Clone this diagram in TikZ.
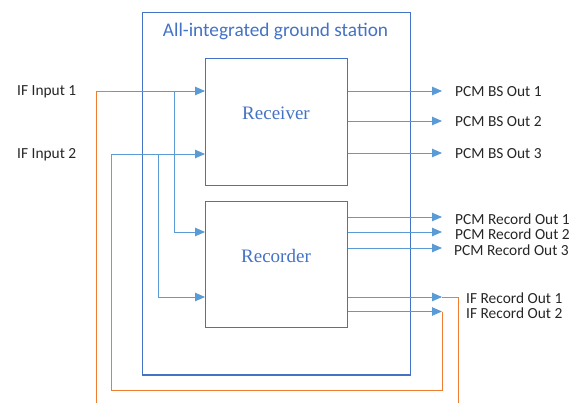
\documentclass[tikz,border=0pt]{standalone}
\usepackage{fontspec}
\setmainfont{Carlito}
\newfontfamily\blockserif{Liberation Serif}
\usetikzlibrary{arrows.meta}
\definecolor{boxblue}{HTML}{4472C4}
\definecolor{lineblue}{HTML}{5B9BD5}
\definecolor{orng}{HTML}{ED7D31}
\definecolor{txt}{HTML}{262626}
\tikzset{
  blockbox/.style={draw=boxblue, line width=1.3pt, inner sep=0pt, anchor=north west},
  sig/.style={draw=lineblue, line width=0.9pt, -{Triangle[length=10pt,width=8.5pt]}},
  loopwire/.style={draw=orng, line width=0.8pt},
  lbl/.style={text=txt, font=\fontsize{15.4}{18}\selectfont, inner sep=0pt, anchor=west},
  blocktext/.style={text=boxblue, font=\blockserif\fontsize{19}{22}\selectfont, inner sep=0pt},
}
\begin{document}
\begin{tikzpicture}[x=1pt,y=-1pt]
\useasboundingbox (0,0) rectangle (577,403);
% boxes
\node[blockbox, minimum width=268pt, minimum height=362.5pt] (station) at (142,11.7) {};
\node[blockbox, minimum width=142pt, minimum height=127pt] (receiver) at (205,58) {};
\node[blockbox, minimum width=142pt, minimum height=125.7pt] (recorder) at (205,201) {};
\node[text=boxblue, font=\fontsize{19.3}{22}\selectfont, inner sep=0pt] (title) at (275.5,31.5) {All-integrated ground station};
\node[blocktext] (rectext) at (276,113) {Receiver};
\node[blocktext] (rcdtext) at (276,256) {Recorder};
% input labels
\node[lbl] (lin1) at (17,92) {IF Input 1};
\node[lbl] (lin2) at (17,155) {IF Input 2};
% coordinates
\coordinate (in1) at (111,91);
\coordinate (in2) at (111,154);
\coordinate (br1) at (174,91);
\coordinate (br2) at (158,154);
\coordinate (o1) at (442,91);
\coordinate (o2) at (442,121);
\coordinate (o3) at (442,153);
\coordinate (p1) at (442,217);
\coordinate (p2) at (442,232);
\coordinate (p3) at (442,248);
\coordinate (ro1) at (442,297);
\coordinate (ro2) at (442,311.5);
\coordinate (loopA) at (96,403);
\coordinate (loopB) at (458,403);
% orange loop wires
\draw[loopwire] (loopA) -- (loopA |- in1) -- (in1);
\draw[loopwire] (in2) -- (111,390) -- (442,390) -- (ro2);
\draw[loopwire] (ro1) -- (loopB |- ro1) -- (loopB);
% inputs
\draw[sig] (in1) -- (receiver.west |- in1);
\draw[sig] (in2) -- (receiver.west |- in2);
\draw[sig] (br1) -- (174,232) -- (recorder.west |- 0,232);
\draw[sig] (br2) -- (158,297) -- (recorder.west |- 0,297);
% outputs
\draw[sig] (receiver.east |- o1) -- (o1);
\draw[sig] (receiver.east |- o2) -- (o2);
\draw[sig] (receiver.east |- o3) -- (o3);
\draw[sig] (recorder.east |- p1) -- (p1);
\draw[sig] (recorder.east |- p2) -- (p2);
\draw[sig] (recorder.east |- p3) -- (p3);
\draw[sig] (recorder.east |- ro1) -- (ro1);
\draw[sig] (recorder.east |- ro2) -- (ro2);
% output labels
\node[lbl] (lo1) at (455,92) {PCM BS Out 1};
\node[lbl] (lo2) at (455,122) {PCM BS Out 2};
\node[lbl] (lo3) at (455,154) {PCM BS Out 3};
\node[lbl] (lp1) at (455,219) {PCM Record Out 1};
\node[lbl] (lp2) at (455,234) {PCM Record Out 2};
\node[lbl] (lp3) at (454,250) {PCM Record Out 3};
\node[lbl] (lr1) at (466,298) {IF Record Out 1};
\node[lbl] (lr2) at (466,313) {IF Record Out 2};
\end{tikzpicture}
\end{document}
